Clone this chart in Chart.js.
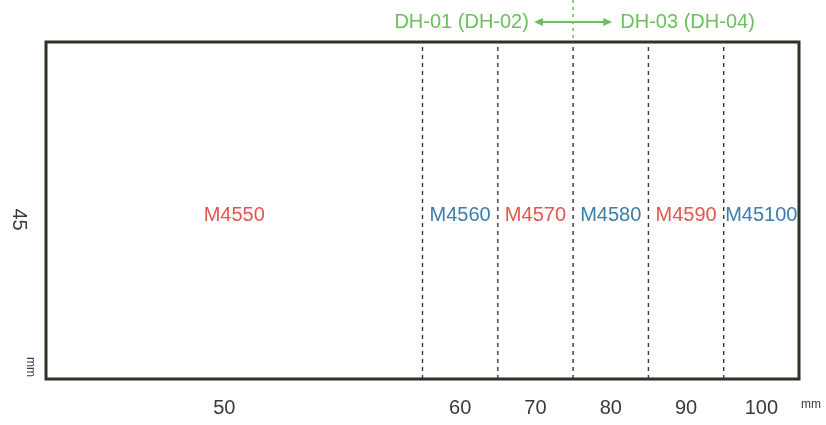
<!DOCTYPE html>
<html>
<head>
<meta charset="utf-8">
<style>
  html, body { margin: 0; padding: 0; background: #fff; }
  #wrap { width: 826px; height: 425px; }
</style>
<script src="https://cdn.jsdelivr.net/npm/chart.js@4.4.1/dist/chart.umd.min.js"></script>
</head>
<body>
<div id="wrap"><canvas id="sizeChart" width="826" height="425"></canvas></div>
<script>
// Panel sizes in mm
const totalWidth = 100;
const totalHeight = 45;
const boundaries = [50, 60, 70, 80, 90];       // dashed cut lines
const models = ["M4550", "M4560", "M4570", "M4580", "M4590", "M45100"];
const widthLabels = ["50", "60", "70", "80", "90", "100"];
const groupSplit = 70;                          // green divider
const groupLeft = "DH-01 (DH-02)";
const groupRight = "DH-03 (DH-04)";

const RED = "#e2574c";
const BLUE = "#3a7ea9";
const GREEN = "#6cbf5c";
const FONT = "'Liberation Sans', Arial, sans-serif";

// segment centres between edges
const edges = [0].concat(boundaries, [totalWidth]);
const centers = models.map((m, i) => (edges[i] + edges[i + 1]) / 2);

const cutLines = boundaries.map(b => ({
    type: "line",
    data: [{ x: b, y: 0 }, { x: b, y: totalHeight }],
    borderColor: "#3a3a3a",
    borderWidth: 1.4,
    borderDash: [4, 4],
    pointRadius: 0,
    fill: false
}));

const diagramPlugin = {
    id: "diagram",
    beforeDatasetsDraw(chart) {
        const { ctx, chartArea: a } = chart;
        ctx.save();
        ctx.strokeStyle = "#2c3324";
        ctx.lineWidth = 3;
        ctx.strokeRect(a.left, a.top, a.right - a.left, a.bottom - a.top);
        ctx.restore();
    },
    afterDatasetsDraw(chart) {
        const { ctx, chartArea: a, scales } = chart;
        const xs = scales.x, ys = scales.y;
        ctx.save();

        // model names inside the panel
        ctx.font = "20px " + FONT;
        ctx.textAlign = "center";
        ctx.textBaseline = "middle";
        const midY = ys.getPixelForValue(totalHeight / 2) + 5;
        models.forEach((m, i) => {
            ctx.fillStyle = i % 2 === 0 ? RED : BLUE;
            ctx.fillText(m, xs.getPixelForValue(centers[i]), midY);
        });

        // width labels under the panel
        ctx.fillStyle = "#3a3a3a";
        widthLabels.forEach((t, i) => {
            let cx = xs.getPixelForValue(centers[i]);
            if (i === 0) cx -= 10;
            ctx.fillText(t, cx, a.bottom + 29);
        });
        ctx.font = "12px " + FONT;
        ctx.fillText("mm", a.right + 12, a.bottom + 26);

        // height label, rotated
        ctx.save();
        ctx.translate(19, ys.getPixelForValue(totalHeight / 2) + 9);
        ctx.rotate(Math.PI / 2);
        ctx.font = "20px " + FONT;
        ctx.fillStyle = "#3a3a3a";
        ctx.fillText(String(totalHeight), 0, 0);
        ctx.restore();
        ctx.save();
        ctx.translate(30, a.bottom - 12);
        ctx.rotate(Math.PI / 2);
        ctx.font = "12px " + FONT;
        ctx.fillStyle = "#3a3a3a";
        ctx.fillText("mm", 0, 0);
        ctx.restore();

        // green group divider and arrow
        const gx = xs.getPixelForValue(groupSplit);
        ctx.strokeStyle = GREEN;
        ctx.lineWidth = 1.5;
        ctx.setLineDash([3, 4]);
        ctx.beginPath();
        ctx.moveTo(gx, 0);
        ctx.lineTo(gx, a.top - 2);
        ctx.stroke();
        ctx.setLineDash([]);

        const ay = 22;
        const ax1 = xs.getPixelForValue(groupSplit - 5.2);
        const ax2 = xs.getPixelForValue(groupSplit + 5.2);
        ctx.lineWidth = 2;
        ctx.beginPath();
        ctx.moveTo(ax1 + 6, ay);
        ctx.lineTo(ax2 - 6, ay);
        ctx.stroke();
        ctx.fillStyle = GREEN;
        ctx.beginPath();
        ctx.moveTo(ax1, ay); ctx.lineTo(ax1 + 9, ay - 4); ctx.lineTo(ax1 + 9, ay + 4); ctx.closePath();
        ctx.fill();
        ctx.beginPath();
        ctx.moveTo(ax2, ay); ctx.lineTo(ax2 - 9, ay - 4); ctx.lineTo(ax2 - 9, ay + 4); ctx.closePath();
        ctx.fill();

        ctx.font = "20px " + FONT;
        ctx.textAlign = "center";
        ctx.fillText(groupLeft, xs.getPixelForValue(55.2), ay);
        ctx.fillText(groupRight, xs.getPixelForValue(85.2), ay);

        ctx.restore();
    }
};

new Chart(document.getElementById("sizeChart").getContext("2d"), {
    type: "line",
    data: { datasets: cutLines },
    options: {
        responsive: false,
        animation: false,
        layout: { padding: { left: 46, right: 27, top: 42, bottom: 46 } },
        scales: {
            x: { type: "linear", min: 0, max: totalWidth, display: false },
            y: { type: "linear", min: 0, max: totalHeight, display: false }
        },
        plugins: {
            legend: { display: false },
            tooltip: { enabled: false }
        }
    },
    plugins: [diagramPlugin]
});
</script>
</body>
</html>
